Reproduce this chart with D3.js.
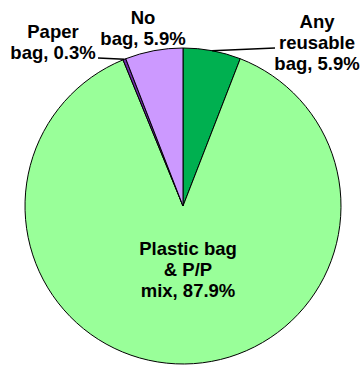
<!DOCTYPE html>
<html><head><meta charset="utf-8">
<script src="https://cdn.jsdelivr.net/npm/d3@7"></script>
<style>html,body{margin:0;padding:0;background:#fff;}svg{display:block;}</style>
</head><body>
<svg id="c" width="362" height="367"></svg>
<script>
const categories = ["Any reusable bag", "Plastic bag & P/P mix", "Paper bag", "No bag"];
const values = [5.9, 87.9, 0.3, 5.9];
const labelLines = [["Any", "reusable", "bag, 5.9%"], ["Plastic bag", "& P/P", "mix, 87.9%"], ["Paper", "bag, 0.3%"], ["No", "bag, 5.9%"]];
const colors = ["#00B050", "#99FF99", "#6F2DA8", "#CC99FF"];

const cx = 183, cy = 206, R = 158;
const svg = d3.select("#c");
const g = svg.append("g").attr("transform", `translate(${cx},${cy})`);
const pie = d3.pie().sort(null).value(d => d.v);
const data = categories.map((c, i) => ({c, v: values[i], i}));
const arcs = pie(data);
const arc = d3.arc().innerRadius(0).outerRadius(R);
const edge = d3.arc().innerRadius(R).outerRadius(R);

g.selectAll("path.s").data(arcs).join("path")
  .attr("d", arc).attr("fill", d => colors[d.data.i])
  .attr("stroke", "#000").attr("stroke-width", 1).attr("stroke-linejoin", "round");

// label layout (absolute positions)
const lab = [
  {x: 317, y: 28, anchor: "middle", lineFrom: [275, 48]},
  {x: 188, y: 255, anchor: "middle"},
  {x: 53, y: 38, anchor: "middle", lineFrom: [98, 58]},
  {x: 143, y: 24, anchor: "middle"}
];
const lh = 21;
arcs.forEach((a, k) => {
  const L = lab[k];
  const t = svg.append("text").attr("x", L.x).attr("y", L.y)
    .attr("text-anchor", L.anchor)
    .attr("font-family", "'Liberation Sans', Arial, sans-serif")
    .attr("font-weight", "bold").attr("font-size", 18.5).attr("fill", "#000");
  labelLines[k].forEach((s, j) => t.append("tspan").attr("x", L.x).attr("y", L.y + j * lh).text(s));
  if (L.lineFrom) {
    const p = edge.centroid(a);
    svg.append("line").attr("x1", L.lineFrom[0]).attr("y1", L.lineFrom[1])
      .attr("x2", cx + p[0]).attr("y2", cy + p[1])
      .attr("stroke", "#000").attr("stroke-width", 1.5);
  }
});
</script>
</body></html>
